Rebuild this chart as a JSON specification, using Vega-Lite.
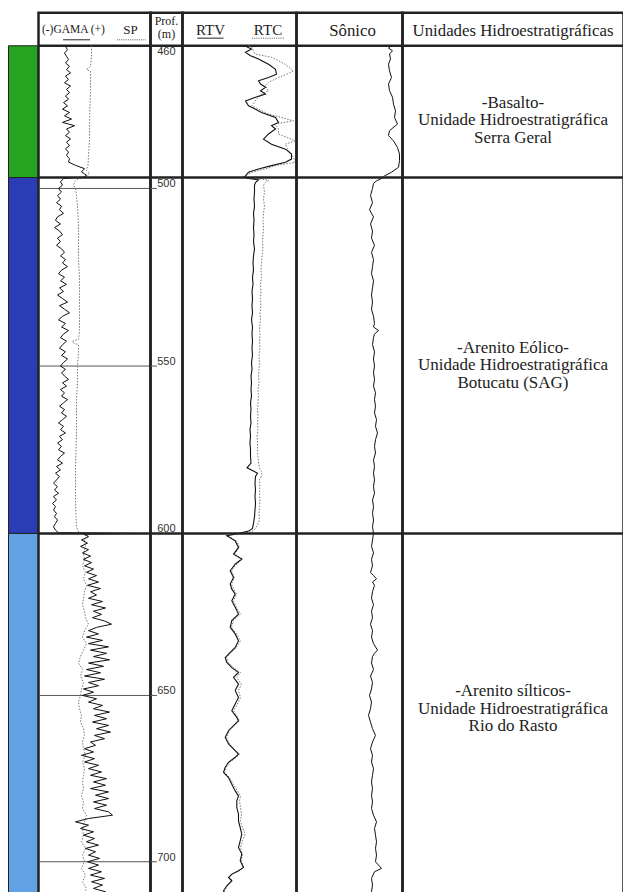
{
"$schema": "https://vega.github.io/schema/vega-lite/v6.json",
"padding": {"left": 7.5, "top": 10.75, "right": 0, "bottom": 0},
"autosize": {"type": "pad"},
"background": "white",
"config": {"view": {"stroke": "#222", "strokeWidth": 2.5}, "font": "Liberation Serif", "axis": {"disable": true}},
"datasets": {
"gama": [{"d":456.8,"v":27},{"d":457,"v":27},{"d":458,"v":29},{"d":459,"v":26},{"d":460,"v":28},{"d":461,"v":30},{"d":462,"v":27},{"d":463,"v":31},{"d":464,"v":28},{"d":465,"v":32},{"d":466,"v":27},{"d":467,"v":30},{"d":468,"v":26},{"d":469,"v":32},{"d":470,"v":28},{"d":471,"v":31},{"d":472,"v":27},{"d":473,"v":30},{"d":474,"v":25},{"d":475,"v":29},{"d":476,"v":24},{"d":477,"v":31},{"d":478,"v":26},{"d":479,"v":33},{"d":480,"v":24},{"d":481,"v":36},{"d":482,"v":28},{"d":483,"v":31},{"d":484,"v":27},{"d":485,"v":32},{"d":486,"v":28},{"d":487,"v":31},{"d":488,"v":27},{"d":489,"v":30},{"d":490,"v":28},{"d":491,"v":31},{"d":492,"v":30},{"d":493,"v":37},{"d":494,"v":46},{"d":495,"v":43},{"d":496,"v":48},{"d":496.6,"v":45},
{"d":497,"v":25},{"d":498,"v":22},{"d":499,"v":24},{"d":500,"v":20},{"d":501,"v":23},{"d":502,"v":19},{"d":503,"v":22},{"d":504,"v":18},{"d":505,"v":23},{"d":506,"v":21},{"d":507,"v":25},{"d":508,"v":19},{"d":509,"v":17},{"d":510,"v":22},{"d":511,"v":16},{"d":512,"v":21},{"d":513,"v":24},{"d":514,"v":19},{"d":515,"v":22},{"d":516,"v":18},{"d":517,"v":23},{"d":518,"v":26},{"d":519,"v":22},{"d":520,"v":27},{"d":521,"v":24},{"d":522,"v":29},{"d":523,"v":23},{"d":524,"v":20},{"d":525,"v":26},{"d":526,"v":22},{"d":527,"v":28},{"d":528,"v":21},{"d":529,"v":25},{"d":530,"v":19},{"d":531,"v":24},{"d":532,"v":29},{"d":533,"v":21},{"d":534,"v":26},{"d":535,"v":31},{"d":536,"v":24},{"d":537,"v":20},{"d":538,"v":27},{"d":539,"v":23},{"d":540,"v":30},{"d":541,"v":25},{"d":542,"v":22},{"d":543,"v":28},{"d":544,"v":24},{"d":545,"v":21},{"d":546,"v":27},{"d":547,"v":23},{"d":548,"v":29},{"d":549,"v":25},{"d":550,"v":22},{"d":551,"v":27},{"d":552,"v":23},{"d":553,"v":26},{"d":554,"v":30},{"d":555,"v":24},{"d":556,"v":28},{"d":557,"v":22},{"d":558,"v":26},{"d":559,"v":23},{"d":560,"v":29},{"d":561,"v":25},{"d":562,"v":21},{"d":563,"v":26},{"d":564,"v":23},{"d":565,"v":28},{"d":566,"v":24},{"d":567,"v":20},{"d":568,"v":25},{"d":569,"v":22},{"d":570,"v":27},{"d":571,"v":21},{"d":572,"v":24},{"d":573,"v":19},{"d":574,"v":23},{"d":575,"v":20},{"d":576,"v":26},{"d":577,"v":22},{"d":578,"v":19},{"d":579,"v":24},{"d":580,"v":18},{"d":581,"v":22},{"d":582,"v":17},{"d":583,"v":21},{"d":584,"v":18},{"d":585,"v":15},{"d":586,"v":19},{"d":587,"v":16},{"d":588,"v":20},{"d":589,"v":15},{"d":590,"v":18},{"d":591,"v":14},{"d":592,"v":17},{"d":593,"v":15},{"d":594,"v":18},{"d":595,"v":16},{"d":596,"v":19},{"d":597,"v":17},{"d":598,"v":15},{"d":599,"v":17},{"d":599.8,"v":20},{"d":600,"v":93},{"d":600.2,"v":45},
{"d":601,"v":50},{"d":602,"v":43},{"d":603,"v":49},{"d":604,"v":42},{"d":605,"v":50},{"d":606,"v":44},{"d":607,"v":52},{"d":608,"v":45},{"d":609,"v":53},{"d":610,"v":46},{"d":611,"v":55},{"d":612,"v":48},{"d":613,"v":58},{"d":614,"v":50},{"d":615,"v":60},{"d":616,"v":49},{"d":617,"v":62},{"d":618,"v":52},{"d":619,"v":58},{"d":620,"v":50},{"d":621,"v":64},{"d":622,"v":53},{"d":623,"v":67},{"d":624,"v":55},{"d":625,"v":63},{"d":626,"v":54},{"d":627,"v":66},{"d":628,"v":73},{"d":629,"v":58},{"d":630,"v":50},{"d":631,"v":60},{"d":632,"v":48},{"d":633,"v":64},{"d":634,"v":50},{"d":635,"v":70},{"d":636,"v":52},{"d":637,"v":68},{"d":638,"v":55},{"d":639,"v":71},{"d":640,"v":50},{"d":641,"v":65},{"d":642,"v":48},{"d":643,"v":62},{"d":644,"v":46},{"d":645,"v":66},{"d":646,"v":50},{"d":647,"v":60},{"d":648,"v":45},{"d":649,"v":55},{"d":650,"v":44},{"d":651,"v":58},{"d":652,"v":50},{"d":653,"v":64},{"d":654,"v":55},{"d":655,"v":71},{"d":656,"v":56},{"d":657,"v":68},{"d":658,"v":54},{"d":659,"v":70},{"d":660,"v":58},{"d":661,"v":72},{"d":662,"v":56},{"d":663,"v":66},{"d":664,"v":52},{"d":665,"v":57},{"d":666,"v":46},{"d":667,"v":55},{"d":668,"v":43},{"d":669,"v":56},{"d":670,"v":46},{"d":671,"v":60},{"d":672,"v":50},{"d":673,"v":63},{"d":674,"v":52},{"d":675,"v":68},{"d":676,"v":55},{"d":677,"v":67},{"d":678,"v":52},{"d":679,"v":70},{"d":680,"v":57},{"d":681,"v":70},{"d":682,"v":55},{"d":683,"v":68},{"d":684,"v":56},{"d":685,"v":70},{"d":686,"v":74},{"d":686.5,"v":62},{"d":687,"v":50},{"d":688,"v":37},{"d":689,"v":50},{"d":690,"v":42},{"d":691,"v":55},{"d":692,"v":45},{"d":693,"v":56},{"d":694,"v":48},{"d":695,"v":60},{"d":696,"v":47},{"d":697,"v":57},{"d":698,"v":50},{"d":699,"v":61},{"d":700,"v":49},{"d":701,"v":60},{"d":702,"v":50},{"d":703,"v":63},{"d":704,"v":52},{"d":705,"v":66},{"d":706,"v":53},{"d":707,"v":64},{"d":708,"v":55},{"d":709,"v":67},{"d":710,"v":54},{"d":711,"v":62},{"d":712,"v":56}],
"sp": [{"d":456.8,"v":53},{"d":460,"v":53},{"d":463,"v":52},{"d":463.6,"v":50},{"d":464,"v":48},{"d":464.5,"v":52},{"d":470,"v":52},{"d":475,"v":51.5},{"d":480,"v":51},{"d":485,"v":51},{"d":490,"v":50},{"d":493,"v":49.5},{"d":494.5,"v":48},{"d":495.5,"v":51},{"d":496.6,"v":47},{"d":497,"v":40},{"d":498,"v":36},{"d":499,"v":35},{"d":500,"v":37},{"d":502,"v":38},{"d":505,"v":39},{"d":510,"v":40},{"d":515,"v":40},{"d":520,"v":40},{"d":525,"v":41},{"d":530,"v":41},{"d":535,"v":41},{"d":540,"v":41},{"d":542.5,"v":40},{"d":543,"v":34},{"d":543.5,"v":35},{"d":544,"v":40},{"d":546,"v":40},{"d":550,"v":39},{"d":555,"v":39},{"d":560,"v":38},{"d":565,"v":38},{"d":570,"v":38},{"d":575,"v":37.5},{"d":580,"v":37},{"d":585,"v":37},{"d":590,"v":37},{"d":595,"v":37.5},{"d":598,"v":38},{"d":599.5,"v":40},{"d":600.3,"v":50},{"d":602,"v":46},{"d":604,"v":47},{"d":606,"v":45},{"d":608,"v":46},{"d":610,"v":44},{"d":612,"v":47},{"d":614,"v":45},{"d":616,"v":48},{"d":618,"v":46},{"d":620,"v":45},{"d":622,"v":44},{"d":624,"v":46},{"d":626,"v":47},{"d":628,"v":50},{"d":630,"v":46},{"d":632,"v":44},{"d":634,"v":48},{"d":636,"v":45},{"d":638,"v":42},{"d":640,"v":40},{"d":642,"v":44},{"d":644,"v":42},{"d":646,"v":45},{"d":648,"v":43},{"d":650,"v":42},{"d":652,"v":40},{"d":654,"v":41},{"d":656,"v":43},{"d":658,"v":42},{"d":660,"v":45},{"d":662,"v":46},{"d":664,"v":44},{"d":666,"v":45},{"d":668,"v":47},{"d":670,"v":44},{"d":672,"v":46},{"d":674,"v":45},{"d":676,"v":44},{"d":678,"v":45},{"d":680,"v":43},{"d":682,"v":45},{"d":684,"v":44},{"d":686,"v":48},{"d":688,"v":46},{"d":690,"v":44},{"d":692,"v":45},{"d":694,"v":43},{"d":696,"v":47},{"d":698,"v":44},{"d":700,"v":46},{"d":702,"v":43},{"d":704,"v":47},{"d":706,"v":44},{"d":708,"v":48},{"d":710,"v":45},{"d":712,"v":47}],
"rtv": [{"d":456.8,"v":64},{"d":457.1,"v":64},{"d":457.8,"v":69},{"d":458.8,"v":63},{"d":459.8,"v":68},{"d":460.8,"v":76},{"d":462.4,"v":86},{"d":463.9,"v":93},{"d":465.4,"v":94},{"d":466.4,"v":86},{"d":467.4,"v":76},{"d":468.4,"v":78},{"d":469.4,"v":83},{"d":470.4,"v":78},{"d":471.4,"v":83},{"d":472.4,"v":73},{"d":473.5,"v":63},{"d":475,"v":66},{"d":476,"v":73},{"d":477,"v":79},{"d":478.5,"v":93},{"d":480,"v":96},{"d":481,"v":89},{"d":482,"v":93},{"d":483.5,"v":86},{"d":485.1,"v":81},{"d":486.6,"v":89},{"d":488.1,"v":103},{"d":489.6,"v":109},{"d":491.1,"v":109},{"d":492.1,"v":103},{"d":493.1,"v":89},{"d":494.1,"v":76},{"d":495.1,"v":66},{"d":496.2,"v":63},
{"d":496.6,"v":61},{"d":497,"v":66},{"d":497.4,"v":76},{"d":498.2,"v":73},{"d":499,"v":72},{"d":501,"v":72},{"d":503,"v":71.5},{"d":505,"v":72},{"d":507,"v":71},{"d":509,"v":71.5},{"d":511,"v":71},{"d":513,"v":71.5},{"d":515,"v":71},{"d":517,"v":72},{"d":519,"v":71},{"d":521,"v":70.5},{"d":523,"v":71},{"d":525,"v":70},{"d":527,"v":70.5},{"d":529,"v":69.5},{"d":531,"v":70},{"d":533,"v":69.5},{"d":535,"v":70},{"d":537,"v":69},{"d":539,"v":70},{"d":541,"v":69.5},{"d":543,"v":70},{"d":545,"v":69.5},{"d":547,"v":70},{"d":549,"v":69},{"d":551,"v":69.5},{"d":553,"v":68.5},{"d":555,"v":69},{"d":557,"v":68.5},{"d":559,"v":69},{"d":561,"v":68},{"d":563,"v":68.5},{"d":565,"v":68},{"d":567,"v":68.5},{"d":569,"v":67.5},{"d":571,"v":68},{"d":573,"v":67.5},{"d":575,"v":68},{"d":577,"v":68},{"d":579,"v":68.5},{"d":580.4,"v":64.5},{"d":581.2,"v":70},{"d":582,"v":75},{"d":583,"v":73},{"d":585,"v":72.5},{"d":587,"v":73},{"d":589,"v":72.5},{"d":591,"v":73},{"d":593,"v":72.5},{"d":595,"v":72},{"d":597,"v":71},{"d":598.5,"v":70},{"d":599.3,"v":66},{"d":600,"v":56},
{"d":600.7,"v":44.3},{"d":602.3,"v":52.7},{"d":604.3,"v":56},{"d":606.4,"v":51},{"d":607.9,"v":59.3},{"d":609.5,"v":52.7},{"d":611.5,"v":47.7},{"d":613.6,"v":51},{"d":615.6,"v":47.7},{"d":617.2,"v":49.3},{"d":618.7,"v":52.7},{"d":620.8,"v":49.3},{"d":622.8,"v":52.7},{"d":624.9,"v":56},{"d":626.9,"v":49.3},{"d":629,"v":47.7},{"d":631,"v":52.7},{"d":633.1,"v":56},{"d":635.2,"v":52.7},{"d":636.7,"v":47.7},{"d":638.3,"v":42.7},{"d":639.8,"v":44.3},{"d":641.4,"v":49.3},{"d":642.9,"v":56},{"d":644.4,"v":51},{"d":646.5,"v":56},{"d":648.5,"v":52.7},{"d":650.6,"v":56},{"d":652.6,"v":52.7},{"d":654.6,"v":49.3},{"d":656.6,"v":54.3},{"d":657.6,"v":56},{"d":659.1,"v":51},{"d":660.6,"v":46},{"d":662.6,"v":42.7},{"d":664.6,"v":46},{"d":666.6,"v":52.7},{"d":667.6,"v":56},{"d":668.6,"v":52.7},{"d":670.1,"v":46},{"d":671.6,"v":42.7},{"d":673.1,"v":41},{"d":674.7,"v":46},{"d":676.7,"v":49.3},{"d":678.7,"v":52.7},{"d":680.2,"v":56},{"d":681.7,"v":54.3},{"d":683.7,"v":54.3},{"d":685.7,"v":56},{"d":687.7,"v":56},{"d":689.7,"v":57.7},{"d":691.7,"v":59.3},{"d":693.7,"v":57.7},{"d":695.7,"v":56},{"d":697.7,"v":59.3},{"d":699.7,"v":57.7},{"d":701.7,"v":61},{"d":702.7,"v":56},{"d":703.7,"v":49.3},{"d":704.7,"v":46},{"d":705.7,"v":49.3},{"d":707.2,"v":44.3},{"d":708.7,"v":41},{"d":711,"v":44}],
"rtc": [{"d":456.8,"v":66},{"d":457.3,"v":69.3},{"d":459.3,"v":72.7},{"d":460.3,"v":89.3},{"d":462.4,"v":102.7},{"d":464.4,"v":111},{"d":465.4,"v":104.3},{"d":466.4,"v":96},{"d":467.9,"v":86},{"d":468.9,"v":82.7},{"d":470.4,"v":86},{"d":471.4,"v":79.3},{"d":473.5,"v":72.7},{"d":475,"v":69.3},{"d":476,"v":76},{"d":477.5,"v":86},{"d":479.5,"v":111},{"d":480.5,"v":92.7},{"d":482,"v":96},{"d":483.5,"v":96},{"d":485.6,"v":112.7},{"d":486.6,"v":102.7},{"d":488.6,"v":106},{"d":490.6,"v":111},{"d":492.1,"v":112.7},{"d":493.1,"v":92.7},{"d":494.1,"v":82.7},{"d":495.1,"v":69.3},{"d":496.2,"v":62.7},
{"d":496.6,"v":61},{"d":497.2,"v":80},{"d":497.6,"v":86},{"d":498.2,"v":83},{"d":499,"v":81},{"d":501,"v":82},{"d":503,"v":81},{"d":505,"v":82},{"d":507,"v":81},{"d":509,"v":80.5},{"d":511,"v":81},{"d":513,"v":80.5},{"d":515,"v":80},{"d":517,"v":80.5},{"d":519,"v":79.5},{"d":521,"v":79},{"d":523,"v":78.5},{"d":525,"v":79},{"d":527,"v":78},{"d":529,"v":78.5},{"d":531,"v":78},{"d":533,"v":78.5},{"d":535,"v":77.5},{"d":537,"v":78},{"d":539,"v":77},{"d":541,"v":77.5},{"d":543,"v":77},{"d":545,"v":77.5},{"d":547,"v":76.5},{"d":549,"v":77},{"d":551,"v":76.5},{"d":553,"v":76},{"d":555,"v":76.5},{"d":557,"v":75.5},{"d":559,"v":76},{"d":561,"v":75.5},{"d":563,"v":75},{"d":565,"v":75.5},{"d":567,"v":75},{"d":569,"v":75.5},{"d":571,"v":74.5},{"d":573,"v":75},{"d":575,"v":75},{"d":577,"v":75.5},{"d":579,"v":76},{"d":580.5,"v":77},{"d":581.5,"v":79},{"d":582.5,"v":79.5},{"d":584,"v":77},{"d":586,"v":77.5},{"d":588,"v":77},{"d":590,"v":77.5},{"d":592,"v":77},{"d":594,"v":76.5},{"d":596,"v":77},{"d":597.5,"v":75},{"d":598.7,"v":72.5},{"d":599.5,"v":69},{"d":600,"v":56},
{"d":600.7,"v":45},{"d":602.3,"v":54},{"d":604.3,"v":57},{"d":606.4,"v":52},{"d":607.9,"v":60},{"d":609.5,"v":54},{"d":611.5,"v":49},{"d":613.6,"v":52},{"d":615.6,"v":49},{"d":617.2,"v":51},{"d":618.7,"v":54},{"d":620.8,"v":51},{"d":622.8,"v":54},{"d":624.9,"v":58},{"d":626.9,"v":51},{"d":629,"v":49},{"d":631,"v":54},{"d":633.1,"v":58},{"d":635.2,"v":54},{"d":636.7,"v":49},{"d":638.3,"v":44},{"d":639.8,"v":46},{"d":641.4,"v":51},{"d":642.9,"v":58},{"d":644.4,"v":54},{"d":646.5,"v":59},{"d":648.5,"v":56},{"d":650.6,"v":58},{"d":652.6,"v":55},{"d":654.6,"v":51},{"d":656.6,"v":55},{"d":657.6,"v":57},{"d":659.1,"v":52},{"d":660.6,"v":47},{"d":662.6,"v":44},{"d":664.6,"v":47},{"d":666.6,"v":53},{"d":667.6,"v":57},{"d":668.6,"v":54},{"d":670.1,"v":47},{"d":671.6,"v":44},{"d":673.1,"v":42},{"d":674.7,"v":47},{"d":676.7,"v":51},{"d":678.7,"v":55},{"d":680.2,"v":58},{"d":681.7,"v":57},{"d":683.7,"v":58},{"d":685.7,"v":59},{"d":687.7,"v":58},{"d":689.7,"v":60},{"d":691.7,"v":62.7},{"d":693.7,"v":60},{"d":695.7,"v":58},{"d":697.7,"v":60},{"d":699.7,"v":59},{"d":701.7,"v":61},{"d":702.7,"v":57},{"d":703.7,"v":50},{"d":704.7,"v":47},{"d":705.7,"v":50},{"d":707.2,"v":45},{"d":708.7,"v":42},{"d":711,"v":45}],
"sonic": [{"d":456.8,"v":95},{"d":457.5,"v":92},{"d":458.3,"v":96},{"d":459.3,"v":93},{"d":460.8,"v":94},{"d":462.4,"v":92},{"d":464.4,"v":93},{"d":466.4,"v":95},{"d":468.4,"v":92},{"d":470.4,"v":93},{"d":472.4,"v":96},{"d":474.5,"v":97},{"d":476.5,"v":99},{"d":478.5,"v":98},{"d":480.5,"v":101},{"d":482.5,"v":93},{"d":484,"v":92},{"d":485.6,"v":97},{"d":487.6,"v":101},{"d":489.6,"v":103},{"d":491.6,"v":103},{"d":493.6,"v":102},{"d":495.1,"v":95},{"d":496.2,"v":88},{"d":497,"v":85},{"d":497.7,"v":80},{"d":498.5,"v":77},{"d":500,"v":76},{"d":502,"v":74},{"d":504,"v":76},{"d":506,"v":73},{"d":508,"v":77},{"d":510,"v":74},{"d":512,"v":76},{"d":514,"v":75},{"d":516,"v":78},{"d":518,"v":75},{"d":520,"v":77},{"d":522,"v":76},{"d":524,"v":75},{"d":526,"v":77},{"d":528,"v":76},{"d":530,"v":75},{"d":532,"v":76},{"d":534,"v":75},{"d":536,"v":77},{"d":538,"v":78},{"d":539,"v":77},{"d":540,"v":82},{"d":541,"v":78},{"d":542,"v":77},{"d":544,"v":76},{"d":546,"v":78},{"d":548,"v":77},{"d":550,"v":78},{"d":552,"v":77},{"d":554,"v":78},{"d":556,"v":77},{"d":558,"v":79},{"d":560,"v":78},{"d":562,"v":79},{"d":564,"v":78},{"d":566,"v":80},{"d":568,"v":79},{"d":570,"v":81},{"d":572,"v":79},{"d":574,"v":78},{"d":576,"v":79},{"d":578,"v":77},{"d":580,"v":78},{"d":582,"v":77},{"d":584,"v":78},{"d":586,"v":77},{"d":588,"v":78},{"d":590,"v":76},{"d":592,"v":77},{"d":594,"v":76},{"d":596,"v":77},{"d":598,"v":76},{"d":600,"v":77},{"d":602,"v":76},{"d":604,"v":75},{"d":606,"v":77},{"d":608,"v":75},{"d":610,"v":76},{"d":612,"v":74},{"d":613,"v":77},{"d":614,"v":80},{"d":615,"v":76},{"d":616,"v":78},{"d":618,"v":76},{"d":620,"v":75},{"d":622,"v":77},{"d":624,"v":75},{"d":626,"v":76},{"d":628,"v":74},{"d":630,"v":76},{"d":632,"v":75},{"d":634,"v":77},{"d":636,"v":81},{"d":637,"v":78},{"d":638,"v":76},{"d":640,"v":75},{"d":642,"v":77},{"d":644,"v":74},{"d":646,"v":76},{"d":648,"v":75},{"d":650,"v":73},{"d":652,"v":75},{"d":654,"v":74},{"d":656,"v":72},{"d":658,"v":74},{"d":660,"v":76},{"d":662,"v":79},{"d":664,"v":76},{"d":666,"v":74},{"d":668,"v":76},{"d":670,"v":75},{"d":672,"v":77},{"d":674,"v":76},{"d":676,"v":75},{"d":678,"v":76},{"d":680,"v":75},{"d":682,"v":76},{"d":684,"v":75},{"d":686,"v":77},{"d":688,"v":80},{"d":690,"v":78},{"d":692,"v":79},{"d":694,"v":80},{"d":696,"v":79},{"d":698,"v":80},{"d":700,"v":79},{"d":702,"v":85},{"d":703,"v":78},{"d":705,"v":75},{"d":707,"v":76},{"d":709,"v":75},{"d":711,"v":76}],
"ticks": [{"d":460},{"d":500},{"d":550},{"d":600},{"d":650},{"d":700}],
"bounds": [{"d":496.7},{"d":600}],
"units": [
{"unit":"Basalto","top":456.8,"base":496.7,"mid":479.4,"label":"-Basalto-\nUnidade Hidroestratigráfica\nSerra Geral"},
{"unit":"Botucatu","top":496.7,"base":600,"mid":549.8,"label":"-Arenito Eólico-\nUnidade Hidroestratigráfica\nBotucatu (SAG)"},
{"unit":"Rio do Rasto","top":600,"base":712,"mid":654,"label":"-Arenito sílticos-\nUnidade Hidroestratigráfica\nRio do Rasto"}]
},
"hconcat": [
 {"width": 30, "height": 889, "view": {"stroke": null}, "data": {"name": "units"}, "mark": {"type": "rect", "stroke": "#222", "strokeWidth": 1},
  "encoding": {"y": {"field": "top", "type": "quantitative", "scale": {"domain": [456.8, 500, 550, 600, 650, 700, 712], "range": [33, 175.7, 353.3, 520.7, 682.7, 849, 889], "nice": false, "zero": false}, "axis": null}, "y2": {"field": "base"},
   "color": {"field": "unit", "type": "nominal", "scale": {"domain": ["Basalto", "Botucatu", "Rio do Rasto"], "range": ["#25a420", "#2b3db5", "#62a2e4"]}, "legend": null}}},
 {"width": 112, "height": 889, "resolve": {"scale": {"y": "independent"}}, "layer": [
  {"data": {"values": [{}]}, "mark": {"type": "text", "text": "(-)GAMA (+)", "align": "left", "baseline": "middle", "fontSize": 11.5, "color": "#222"}, "encoding": {"x": {"datum": 3.4, "type": "quantitative", "scale": {"domain": [0, 112], "nice": false, "zero": false}, "axis": null}, "y": {"datum": 0.52, "type": "quantitative", "scale": {"domain": [0, 1], "range": [0, 33], "nice": false, "zero": false}, "axis": null}}},
  {"data": {"values": [{}]}, "mark": {"type": "text", "text": "SP", "align": "center", "baseline": "middle", "fontSize": 13, "color": "#222"}, "encoding": {"x": {"datum": 92, "type": "quantitative"}, "y": {"datum": 0.52, "type": "quantitative", "scale": {"domain": [0, 1], "range": [0, 33], "nice": false, "zero": false}, "axis": null}}},
  {"data": {"values": [{}]}, "mark": {"type": "rule", "color": "#222", "strokeWidth": 1}, "encoding": {"x": {"datum": 24.6, "type": "quantitative"}, "x2": {"datum": 51.5}, "y": {"datum": 0.82, "type": "quantitative", "scale": {"domain": [0, 1], "range": [0, 33], "nice": false, "zero": false}, "axis": null}}},
  {"data": {"values": [{}]}, "mark": {"type": "rule", "color": "#555", "strokeWidth": 1, "strokeDash": [1, 1.2]}, "encoding": {"x": {"datum": 78.4, "type": "quantitative"}, "x2": {"datum": 107.5}, "y": {"datum": 0.82, "type": "quantitative", "scale": {"domain": [0, 1], "range": [0, 33], "nice": false, "zero": false}, "axis": null}}},
  {"data": {"values": [{}]}, "mark": {"type": "rule", "color": "#222", "strokeWidth": 2.5}, "encoding": {"y": {"datum": 1, "type": "quantitative", "scale": {"domain": [0, 1], "range": [0, 33], "nice": false, "zero": false}, "axis": null}}},
  {"data": {"name": "ticks"}, "transform": [{"filter": "datum.d != 460 && datum.d != 600"}], "mark": {"type": "rule", "color": "#555", "strokeWidth": 1}, "encoding": {"y": {"field": "d", "type": "quantitative", "scale": {"domain": [456.8, 500, 550, 600, 650, 700, 712], "range": [33, 175.7, 353.3, 520.7, 682.7, 849, 889], "nice": false, "zero": false}, "axis": null}}},
  {"data": {"name": "sp"}, "mark": {"type": "line", "color": "#777", "strokeWidth": 1, "strokeDash": [1.5, 1.5], "clip": true}, "encoding": {"y": {"field": "d", "type": "quantitative", "scale": {"domain": [456.8, 500, 550, 600, 650, 700, 712], "range": [33, 175.7, 353.3, 520.7, 682.7, 849, 889], "nice": false, "zero": false}, "axis": null}, "x": {"field": "v", "type": "quantitative"}, "order": {"field": "d", "type": "quantitative"}}},
  {"data": {"name": "gama"}, "mark": {"type": "line", "color": "#111", "strokeWidth": 1, "clip": true}, "encoding": {"y": {"field": "d", "type": "quantitative", "scale": {"domain": [456.8, 500, 550, 600, 650, 700, 712], "range": [33, 175.7, 353.3, 520.7, 682.7, 849, 889], "nice": false, "zero": false}, "axis": null}, "x": {"field": "v", "type": "quantitative"}, "order": {"field": "d", "type": "quantitative"}}},
  {"data": {"name": "bounds"}, "mark": {"type": "rule", "color": "#222", "strokeWidth": 2.5}, "encoding": {"y": {"field": "d", "type": "quantitative", "scale": {"domain": [456.8, 500, 550, 600, 650, 700, 712], "range": [33, 175.7, 353.3, 520.7, 682.7, 849, 889], "nice": false, "zero": false}, "axis": null}}}
 ]},
 {"width": 32, "height": 889, "resolve": {"scale": {"y": "independent"}}, "layer": [
  {"data": {"values": [{}]}, "mark": {"type": "text", "text": "Prof.", "align": "center", "baseline": "middle", "fontSize": 12, "color": "#222"}, "encoding": {"x": {"datum": 0.5, "type": "quantitative", "scale": {"domain": [0, 1], "nice": false, "zero": false}, "axis": null}, "y": {"datum": 0.26, "type": "quantitative", "scale": {"domain": [0, 1], "range": [0, 33], "nice": false, "zero": false}, "axis": null}}},
  {"data": {"values": [{}]}, "mark": {"type": "text", "text": "(m)", "align": "center", "baseline": "middle", "fontSize": 12, "color": "#222"}, "encoding": {"x": {"datum": 0.5, "type": "quantitative"}, "y": {"datum": 0.64, "type": "quantitative", "scale": {"domain": [0, 1], "range": [0, 33], "nice": false, "zero": false}, "axis": null}}},
  {"data": {"values": [{}]}, "mark": {"type": "rule", "color": "#222", "strokeWidth": 2.5}, "encoding": {"y": {"datum": 1, "type": "quantitative", "scale": {"domain": [0, 1], "range": [0, 33], "nice": false, "zero": false}, "axis": null}}},
  {"data": {"name": "ticks"}, "transform": [{"filter": "datum.d != 460 && datum.d != 600"}], "mark": {"type": "rule", "color": "#555", "strokeWidth": 1}, "encoding": {"y": {"field": "d", "type": "quantitative", "scale": {"domain": [456.8, 500, 550, 600, 650, 700, 712], "range": [33, 175.7, 353.3, 520.7, 682.7, 849, 889], "nice": false, "zero": false}, "axis": null}, "x": {"datum": 0, "type": "quantitative"}, "x2": {"datum": 0.2}}},
  {"data": {"name": "ticks"}, "mark": {"type": "text", "align": "left", "baseline": "alphabetic", "font": "Liberation Sans", "fontSize": 11, "color": "#333", "dy": -1}, "encoding": {"y": {"field": "d", "type": "quantitative", "scale": {"domain": [456.8, 500, 550, 600, 650, 700, 712], "range": [33, 175.7, 353.3, 520.7, 682.7, 849, 889], "nice": false, "zero": false}, "axis": null}, "x": {"datum": 0.21, "type": "quantitative"}, "text": {"field": "d", "type": "quantitative", "format": "d"}}},
  {"data": {"name": "bounds"}, "mark": {"type": "rule", "color": "#222", "strokeWidth": 2.5}, "encoding": {"y": {"field": "d", "type": "quantitative", "scale": {"domain": [456.8, 500, 550, 600, 650, 700, 712], "range": [33, 175.7, 353.3, 520.7, 682.7, 849, 889], "nice": false, "zero": false}, "axis": null}}}
 ]},
 {"width": 114, "height": 889, "resolve": {"scale": {"y": "independent"}}, "layer": [
  {"data": {"values": [{}]}, "mark": {"type": "text", "text": "RTV", "align": "center", "baseline": "middle", "fontSize": 15, "color": "#222"}, "encoding": {"x": {"datum": 28, "type": "quantitative", "scale": {"domain": [0, 114], "nice": false, "zero": false}, "axis": null}, "y": {"datum": 0.52, "type": "quantitative", "scale": {"domain": [0, 1], "range": [0, 33], "nice": false, "zero": false}, "axis": null}}},
  {"data": {"values": [{}]}, "mark": {"type": "text", "text": "RTC", "align": "center", "baseline": "middle", "fontSize": 15, "color": "#222"}, "encoding": {"x": {"datum": 85.5, "type": "quantitative"}, "y": {"datum": 0.52, "type": "quantitative", "scale": {"domain": [0, 1], "range": [0, 33], "nice": false, "zero": false}, "axis": null}}},
  {"data": {"values": [{}]}, "mark": {"type": "rule", "color": "#222", "strokeWidth": 1}, "encoding": {"x": {"datum": 14.8, "type": "quantitative"}, "x2": {"datum": 41}, "y": {"datum": 0.77, "type": "quantitative", "scale": {"domain": [0, 1], "range": [0, 33], "nice": false, "zero": false}, "axis": null}}},
  {"data": {"values": [{}]}, "mark": {"type": "rule", "color": "#555", "strokeWidth": 1, "strokeDash": [1, 1.2]}, "encoding": {"x": {"datum": 69.5, "type": "quantitative"}, "x2": {"datum": 101.5}, "y": {"datum": 0.77, "type": "quantitative", "scale": {"domain": [0, 1], "range": [0, 33], "nice": false, "zero": false}, "axis": null}}},
  {"data": {"values": [{}]}, "mark": {"type": "rule", "color": "#222", "strokeWidth": 2.5}, "encoding": {"y": {"datum": 1, "type": "quantitative", "scale": {"domain": [0, 1], "range": [0, 33], "nice": false, "zero": false}, "axis": null}}},
  {"data": {"name": "rtc"}, "mark": {"type": "line", "color": "#777", "strokeWidth": 1, "strokeDash": [1.5, 1.5], "clip": true}, "encoding": {"y": {"field": "d", "type": "quantitative", "scale": {"domain": [456.8, 500, 550, 600, 650, 700, 712], "range": [33, 175.7, 353.3, 520.7, 682.7, 849, 889], "nice": false, "zero": false}, "axis": null}, "x": {"field": "v", "type": "quantitative"}, "order": {"field": "d", "type": "quantitative"}}},
  {"data": {"name": "rtv"}, "mark": {"type": "line", "color": "#111", "strokeWidth": 1.1, "clip": true}, "encoding": {"y": {"field": "d", "type": "quantitative", "scale": {"domain": [456.8, 500, 550, 600, 650, 700, 712], "range": [33, 175.7, 353.3, 520.7, 682.7, 849, 889], "nice": false, "zero": false}, "axis": null}, "x": {"field": "v", "type": "quantitative"}, "order": {"field": "d", "type": "quantitative"}}},
  {"data": {"name": "bounds"}, "mark": {"type": "rule", "color": "#222", "strokeWidth": 2.5}, "encoding": {"y": {"field": "d", "type": "quantitative", "scale": {"domain": [456.8, 500, 550, 600, 650, 700, 712], "range": [33, 175.7, 353.3, 520.7, 682.7, 849, 889], "nice": false, "zero": false}, "axis": null}}}
 ]},
 {"width": 106, "height": 889, "resolve": {"scale": {"y": "independent"}}, "layer": [
  {"data": {"values": [{}]}, "mark": {"type": "text", "text": "Sônico", "align": "center", "baseline": "middle", "fontSize": 16.8, "color": "#222"}, "encoding": {"x": {"datum": 56, "type": "quantitative", "scale": {"domain": [0, 106], "nice": false, "zero": false}, "axis": null}, "y": {"datum": 0.55, "type": "quantitative", "scale": {"domain": [0, 1], "range": [0, 33], "nice": false, "zero": false}, "axis": null}}},
  {"data": {"values": [{}]}, "mark": {"type": "rule", "color": "#222", "strokeWidth": 2.5}, "encoding": {"y": {"datum": 1, "type": "quantitative", "scale": {"domain": [0, 1], "range": [0, 33], "nice": false, "zero": false}, "axis": null}}},
  {"data": {"name": "sonic"}, "mark": {"type": "line", "color": "#111", "strokeWidth": 1, "clip": true}, "encoding": {"y": {"field": "d", "type": "quantitative", "scale": {"domain": [456.8, 500, 550, 600, 650, 700, 712], "range": [33, 175.7, 353.3, 520.7, 682.7, 849, 889], "nice": false, "zero": false}, "axis": null}, "x": {"field": "v", "type": "quantitative"}, "order": {"field": "d", "type": "quantitative"}}},
  {"data": {"name": "bounds"}, "mark": {"type": "rule", "color": "#222", "strokeWidth": 2.5}, "encoding": {"y": {"field": "d", "type": "quantitative", "scale": {"domain": [456.8, 500, 550, 600, 650, 700, 712], "range": [33, 175.7, 353.3, 520.7, 682.7, 849, 889], "nice": false, "zero": false}, "axis": null}}}
 ]},
 {"width": 221, "height": 889, "resolve": {"scale": {"y": "independent"}}, "layer": [
  {"data": {"values": [{}]}, "mark": {"type": "text", "text": "Unidades Hidroestratigráficas", "align": "center", "baseline": "middle", "fontSize": 16.8, "color": "#222"}, "encoding": {"y": {"datum": 0.55, "type": "quantitative", "scale": {"domain": [0, 1], "range": [0, 33], "nice": false, "zero": false}, "axis": null}}},
  {"data": {"values": [{}]}, "mark": {"type": "rule", "color": "#222", "strokeWidth": 2.5}, "encoding": {"y": {"datum": 1, "type": "quantitative", "scale": {"domain": [0, 1], "range": [0, 33], "nice": false, "zero": false}, "axis": null}}},
  {"data": {"name": "units"}, "mark": {"type": "text", "align": "center", "baseline": "middle", "fontSize": 17, "lineHeight": 17.5, "lineBreak": "\n", "dy": -17.5, "color": "#222"}, "encoding": {"y": {"field": "mid", "type": "quantitative", "scale": {"domain": [456.8, 500, 550, 600, 650, 700, 712], "range": [33, 175.7, 353.3, 520.7, 682.7, 849, 889], "nice": false, "zero": false}, "axis": null}, "text": {"field": "label"}}},
  {"data": {"name": "bounds"}, "mark": {"type": "rule", "color": "#222", "strokeWidth": 2.5}, "encoding": {"y": {"field": "d", "type": "quantitative", "scale": {"domain": [456.8, 500, 550, 600, 650, 700, 712], "range": [33, 175.7, 353.3, 520.7, 682.7, 849, 889], "nice": false, "zero": false}, "axis": null}}}
 ]}
],
"spacing": 0,
"bounds": "flush"
}
